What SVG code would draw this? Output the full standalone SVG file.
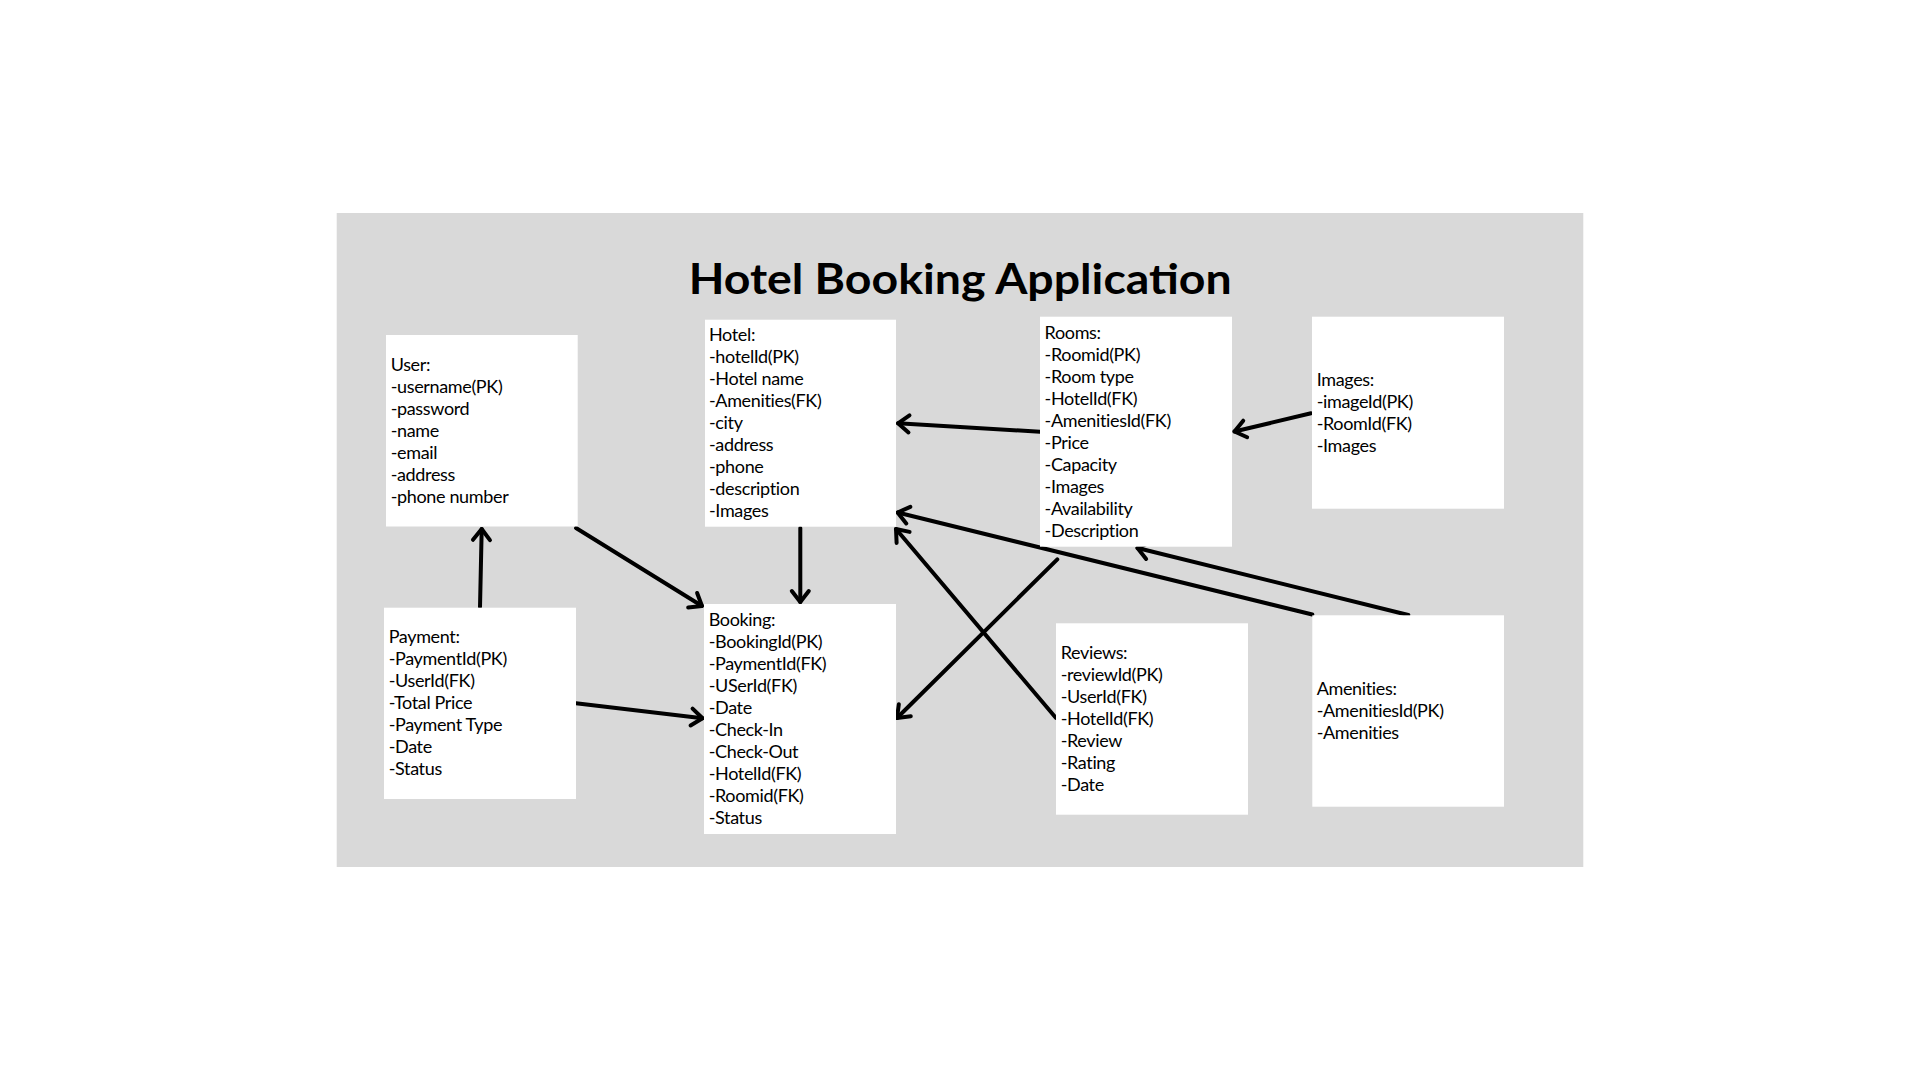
<svg xmlns="http://www.w3.org/2000/svg" width="1920" height="1080" viewBox="0 0 1920 1080">
<style>
.box{fill:#ffffff;}
.t{font-family:"Lato","Open Sans",sans-serif;font-size:18px;letter-spacing:-0.35px;fill:#000000;}
.title{font-family:"Lato","Open Sans",sans-serif;font-size:42px;font-weight:700;fill:#000000;}
.c{fill:none;stroke:#000000;stroke-width:4;stroke-linecap:round;marker-end:url(#ah);}
</style>
<defs>
<marker id="ah" markerUnits="userSpaceOnUse" orient="auto" markerWidth="30" markerHeight="30" viewBox="-15 -15 30 30" refX="0" refY="0" overflow="visible">
<path d="M-11,-8.5 L0,0 L-11,8.5" fill="none" stroke="#000000" stroke-width="4" stroke-linecap="round" stroke-linejoin="round"/>
</marker>
</defs>
<rect width="1920" height="1080" fill="#ffffff"/>
<rect x="336.7" y="213" width="1246.6" height="654" fill="#d9d9d9"/>
<text class="title" x="688.7" y="293.5" textLength="543" lengthAdjust="spacingAndGlyphs">Hotel Booking Application</text>

<g id="connectors">
<line class="c" x1="480" y1="607" x2="481.7" y2="529"/>
<line class="c" x1="576" y1="528" x2="702" y2="606"/>
<line class="c" x1="800.3" y1="528" x2="800.3" y2="602"/>
<line class="c" x1="576" y1="703.3" x2="702.5" y2="718.3"/>
<line class="c" x1="1040" y1="431.7" x2="898" y2="423.3"/>
<line class="c" x1="1311" y1="413.3" x2="1234.5" y2="431.5"/>
<line class="c" x1="1057.3" y1="559.3" x2="897" y2="718"/>
<line class="c" x1="1056" y1="718" x2="896" y2="529"/>
<line class="c" x1="1312.3" y1="614.5" x2="897.6" y2="512.5"/>
<line class="c" x1="1408.3" y1="615" x2="1137.5" y2="548"/>
</g>

<g id="user">
<rect class="box" x="386" y="335" width="191.7" height="191.5"/>
<text class="t" x="390.7" y="370.7">User:</text>
<text class="t" x="390.7" y="392.7">-username(PK)</text>
<text class="t" x="390.7" y="414.7">-password</text>
<text class="t" x="390.7" y="436.7">-name</text>
<text class="t" x="390.7" y="458.7">-email</text>
<text class="t" x="390.7" y="480.7">-address</text>
<text class="t" x="390.7" y="502.7">-phone number</text>
</g>

<g id="hotel">
<rect class="box" x="705" y="319.7" width="191" height="207"/>
<text class="t" x="709" y="340.7">Hotel:</text>
<text class="t" x="709" y="362.7">-hotelId(PK)</text>
<text class="t" x="709" y="384.7">-Hotel name</text>
<text class="t" x="709" y="406.7">-Amenities(FK)</text>
<text class="t" x="709" y="428.7">-city</text>
<text class="t" x="709" y="450.7">-address</text>
<text class="t" x="709" y="472.7">-phone</text>
<text class="t" x="709" y="494.7">-description</text>
<text class="t" x="709" y="516.7">-Images</text>
</g>

<g id="rooms">
<rect class="box" x="1040" y="316.7" width="192" height="230"/>
<text class="t" x="1044.6" y="339.3">Rooms:</text>
<text class="t" x="1044.6" y="361.3">-Roomid(PK)</text>
<text class="t" x="1044.6" y="383.3">-Room type</text>
<text class="t" x="1044.6" y="405.3">-HotelId(FK)</text>
<text class="t" x="1044.6" y="427.3">-AmenitiesId(FK)</text>
<text class="t" x="1044.6" y="449.3">-Price</text>
<text class="t" x="1044.6" y="471.3">-Capacity</text>
<text class="t" x="1044.6" y="493.3">-Images</text>
<text class="t" x="1044.6" y="515.3">-Availability</text>
<text class="t" x="1044.6" y="537.3">-Description</text>
</g>

<g id="images">
<rect class="box" x="1312" y="316.7" width="192" height="192"/>
<text class="t" x="1316.7" y="386">Images:</text>
<text class="t" x="1316.7" y="408">-imageId(PK)</text>
<text class="t" x="1316.7" y="430">-RoomId(FK)</text>
<text class="t" x="1316.7" y="452">-Images</text>
</g>

<g id="payment">
<rect class="box" x="384" y="607.7" width="192" height="191.3"/>
<text class="t" x="388.7" y="643">Payment:</text>
<text class="t" x="388.7" y="665">-PaymentId(PK)</text>
<text class="t" x="388.7" y="687">-UserId(FK)</text>
<text class="t" x="388.7" y="709">-Total Price</text>
<text class="t" x="388.7" y="731">-Payment Type</text>
<text class="t" x="388.7" y="753">-Date</text>
<text class="t" x="388.7" y="775">-Status</text>
</g>

<g id="booking">
<rect class="box" x="704" y="604" width="192" height="230"/>
<text class="t" x="708.7" y="626.3">Booking:</text>
<text class="t" x="708.7" y="648.3">-BookingId(PK)</text>
<text class="t" x="708.7" y="670.3">-PaymentId(FK)</text>
<text class="t" x="708.7" y="692.3">-USerId(FK)</text>
<text class="t" x="708.7" y="714.3">-Date</text>
<text class="t" x="708.7" y="736.3">-Check-In</text>
<text class="t" x="708.7" y="758.3">-Check-Out</text>
<text class="t" x="708.7" y="780.3">-HotelId(FK)</text>
<text class="t" x="708.7" y="802.3">-Roomid(FK)</text>
<text class="t" x="708.7" y="824.3">-Status</text>
</g>

<g id="reviews">
<rect class="box" x="1056" y="623.3" width="192" height="191.4"/>
<text class="t" x="1060.7" y="659">Reviews:</text>
<text class="t" x="1060.7" y="681">-reviewId(PK)</text>
<text class="t" x="1060.7" y="703">-UserId(FK)</text>
<text class="t" x="1060.7" y="725">-HotelId(FK)</text>
<text class="t" x="1060.7" y="747">-Review</text>
<text class="t" x="1060.7" y="769">-Rating</text>
<text class="t" x="1060.7" y="791">-Date</text>
</g>

<g id="amenities">
<rect class="box" x="1312.3" y="615.3" width="191.7" height="191.4"/>
<text class="t" x="1316.7" y="695">Amenities:</text>
<text class="t" x="1316.7" y="717">-AmenitiesId(PK)</text>
<text class="t" x="1316.7" y="739">-Amenities</text>
</g>
</svg>
